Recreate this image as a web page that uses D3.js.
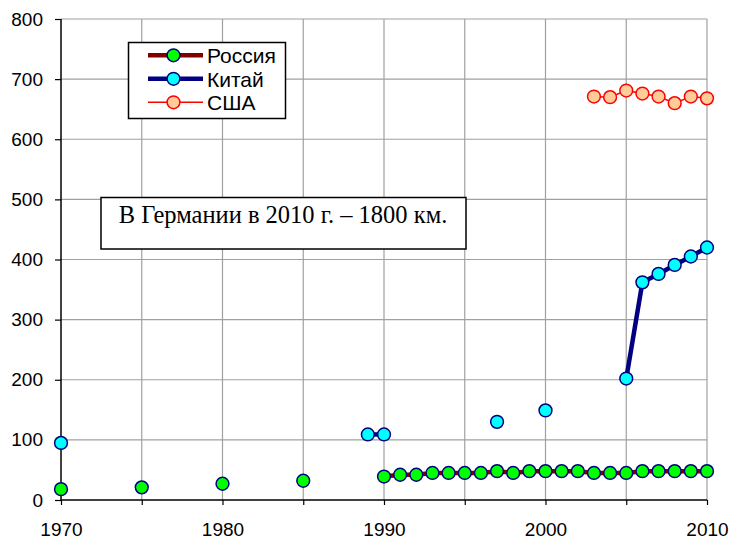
<!DOCTYPE html>
<html><head><meta charset="utf-8">
<script src="https://cdn.jsdelivr.net/npm/d3@7"></script>
<style>body{margin:0;background:#fff}svg{display:block}</style>
</head><body>
<svg id="c" width="733" height="542"></svg>
<script>
const yTicks = [0,100,200,300,400,500,600,700,800];
const xTickLabels = [1970,1980,1990,2000,2010];
const xGridYears = [1970,1975,1980,1985,1990,1995,2000,2005,2010];

const russiaYears = [1970,1975,1980,1985,1990,1991,1992,1993,1994,1995,1996,1997,1998,1999,2000,2001,2002,2003,2004,2005,2006,2007,2008,2009,2010];
const russiaValues = [18,21,27,32,39,42,42,45,45,45,45,48,45,48,48,48,48,45,45,45,48,48,48,48,48];

const chinaYears = [1970,1989,1990,1997,2000,2005,2006,2007,2008,2009,2010];
const chinaValues = [95,109,109,130,149,202,362,376,391,405,420];

const usaYears = [2003,2004,2005,2006,2007,2008,2009,2010];
const usaValues = [671,670,681,676,671,660,671,668];

const legendNames = ["Россия","Китай","США"];
const noteText = "В Германии в 2010 г. – 1800 км.";

const svg = d3.select("#c");
const L = 61, R = 707, T = 19, B = 500;
const x = d3.scaleLinear().domain([1970,2010]).range([L,R]);
const y = d3.scaleLinear().domain([0,800]).range([B,T]);
const sans = "Arial, 'Liberation Sans', sans-serif";

// grid
svg.append("g").selectAll("line").data(yTicks.filter(d=>d>0)).join("line")
  .attr("x1",L).attr("x2",R).attr("y1",d=>y(d)).attr("y2",d=>y(d))
  .attr("stroke","#a0a0a0").attr("stroke-width",1.2);
svg.append("g").selectAll("line").data(xGridYears.filter(d=>d>1970)).join("line")
  .attr("x1",d=>x(d)).attr("x2",d=>x(d)).attr("y1",T).attr("y2",B)
  .attr("stroke","#a0a0a0").attr("stroke-width",1.2);

// axes
const yAxis = d3.axisLeft(y).tickValues(yTicks).tickSize(6).tickPadding(12).tickFormat(d3.format("d"));
const gy = svg.append("g").attr("transform",`translate(${L},0)`).call(yAxis);
const xAxis = d3.axisBottom(x).tickValues(xGridYears).tickSize(5).tickPadding(18)
  .tickFormat(d=> xTickLabels.includes(d) ? d : "");
const gx = svg.append("g").attr("transform",`translate(0,${B})`).call(xAxis);
[gx,gy].forEach(g=>{
  g.select(".domain").attr("stroke","#000").attr("stroke-width",1.5);
  g.selectAll(".tick line").attr("stroke","#000").attr("stroke-width",1.2);
  g.selectAll("text").attr("fill","#000").style("font-family",sans).style("font-size","19px");
});
gy.select(".domain").attr("d",`M0,${B}V${T}`);
gx.select(".domain").attr("d",`M${L},0H${R}`);

function runs(years, vals){
  const out=[]; let cur=[];
  years.forEach((yr,i)=>{
    if(cur.length && yr!==years[i-1]+1){ out.push(cur); cur=[]; }
    cur.push([yr,vals[i]]);
  });
  if(cur.length) out.push(cur);
  return out.filter(r=>r.length>1);
}
const lineGen = d3.line().x(d=>x(d[0])).y(d=>y(d[1]));

const series = [
  {years:russiaYears, vals:russiaValues, line:"#800000", lw:4.5, fill:"#00ff00", stroke:"#000080"},
  {years:chinaYears, vals:chinaValues, line:"#000080", lw:4.5, fill:"#00ffff", stroke:"#000080"},
  {years:usaYears, vals:usaValues, line:"#ff0000", lw:1.5, fill:"#ffcc99", stroke:"#ff0000"}
];
series.forEach(s=>{
  svg.append("g").selectAll("path").data(runs(s.years,s.vals)).join("path")
    .attr("d",lineGen).attr("fill","none").attr("stroke",s.line).attr("stroke-width",s.lw);
});
series.forEach(s=>{
  svg.append("g").selectAll("circle").data(s.years.map((yr,i)=>[yr,s.vals[i]])).join("circle")
    .attr("cx",d=>x(d[0])).attr("cy",d=>y(d[1])).attr("r",6.4)
    .attr("fill",s.fill).attr("stroke",s.stroke).attr("stroke-width",1.5);
});

// legend
const lg = svg.append("g");
lg.append("rect").attr("x",128.5).attr("y",42.5).attr("width",157).attr("height",76)
  .attr("fill","#fff").attr("stroke","#000").attr("stroke-width",1.5);
legendNames.forEach((n,i)=>{
  const s = series[i], yy = 55.3 + i*23.5;
  lg.append("line").attr("x1",148).attr("x2",203).attr("y1",yy).attr("y2",yy)
    .attr("stroke",s.line).attr("stroke-width",s.lw);
  lg.append("circle").attr("cx",173.5).attr("cy",yy).attr("r",6.4)
    .attr("fill",s.fill).attr("stroke",s.stroke).attr("stroke-width",1.5);
  lg.append("text").attr("x",207).attr("y",yy+8).text(n)
    .style("font-family",sans).style("font-size","21px");
});

// note
const ng = svg.append("g");
ng.append("rect").attr("x",101).attr("y",197.5).attr("width",365).attr("height",51.5)
  .attr("fill","#fff").attr("stroke","#000").attr("stroke-width",1.5);
ng.append("text").attr("x",283).attr("y",223).attr("text-anchor","middle").text(noteText)
  .style("font-family","'Liberation Serif','Times New Roman',serif").style("font-size","24.5px");
</script>
</body></html>
